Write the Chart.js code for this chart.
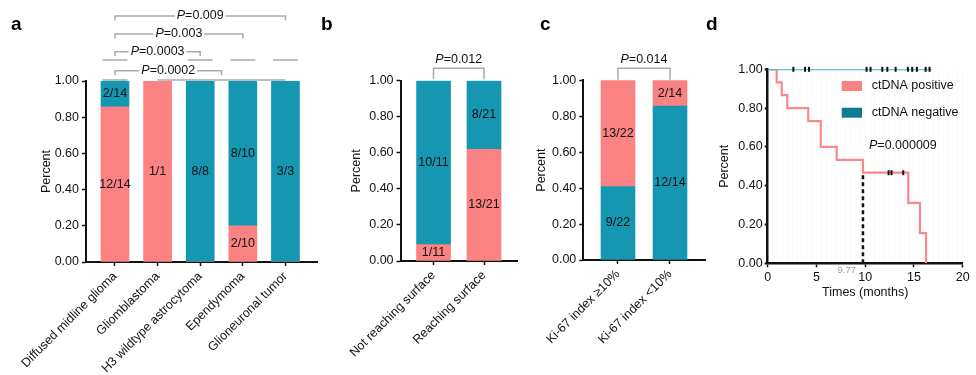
<!DOCTYPE html>
<html>
<head>
<meta charset="utf-8">
<script src="https://cdn.jsdelivr.net/npm/chart.js@4.4.1/dist/chart.umd.min.js"></script>
<style>
  body { margin: 0; background: #fff; }
  #wrap { position: relative; width: 976px; height: 375px; overflow: hidden; font-family: "Liberation Sans", Arial, sans-serif; }
  #wrap canvas { position: absolute; top: 0; }
  .tag { position: absolute; top: 14px; font-size: 19px; font-weight: bold; line-height: 1; color: #000; }
</style>
</head>
<body>
<div id="wrap">
  <canvas id="chartA" width="320" height="375" style="left:0px"></canvas>
  <canvas id="chartB" width="190" height="375" style="left:330px"></canvas>
  <canvas id="chartC" width="188" height="375" style="left:520px"></canvas>
  <canvas id="chartD" width="271" height="375" style="left:705px"></canvas>
  <div class="tag" style="left:11px">a</div>
  <div class="tag" style="left:321px">b</div>
  <div class="tag" style="left:540px">c</div>
  <div class="tag" style="left:706px">d</div>
</div>
<script>
// panel a - tumour types
const catsA = ['Diffused midline glioma', 'Gliomblastoma', 'H3 wildtype astrocytoma', 'Ependymoma', 'Glioneuronal tumor'];
const posA = [12, 1, 0, 2, 0];
const negA = [2, 0, 8, 8, 3];
const pairsA = [[0, 4], [0, 3], [0, 2], [0, 2.5]];
const pvalsA = ['0.009', '0.003', '0.0003', '0.0002'];

// panel b - surface
const catsB = ['Not reaching surface', 'Reaching surface'];
const posB = [1, 13];
const negB = [10, 8];
const pvalB = '0.012';

// panel c - Ki-67
const catsC = ['Ki-67 index \u226510%', 'Ki-67 index <10%'];
const posC = [13, 2];
const negC = [9, 12];
const pvalC = '0.014';

// panel d - survival
const posTime = [0, 0.92, 1.44, 2.01, 4.16, 5.44, 7.08, 9.77, 14.42, 15.62, 16.24];
const posSurv = [1, 0.933, 0.867, 0.8, 0.733, 0.6, 0.533, 0.467, 0.311, 0.156, 0];
const posCens = [12.4, 12.7, 13.9];
const negTime = [0, 16.8];
const negSurv = [1, 1];
const negCens = [2.63, 3.83, 4.24, 10.14, 10.55, 11.75, 12.27, 13.12, 14.38, 14.82, 15.3, 16.2, 16.6];
const medianPos = 9.77;
const pvalD = '0.000009';

const yTicks = [0, 0.2, 0.4, 0.6, 0.8, 1];

const PINK = '#fa8282';
const TEAL = '#1597b2';
const PINK_LINE = '#fb8888';
const TEAL_LINE = '#3fb1ca';
const TEAL_DARK = '#127b93';
const INK = '#111';
const FONT = '"Liberation Sans", Arial, sans-serif';

Chart.defaults.font.family = FONT;
Chart.defaults.font.size = 12.5;
Chart.defaults.color = INK;

// italic P followed by =value
function pText(ctx, val, x, y, align) {
  ctx.font = 'italic 12.5px ' + FONT;
  const wP = ctx.measureText('P').width;
  ctx.font = '12.5px ' + FONT;
  const wR = ctx.measureText('=' + val).width;
  const x0 = align === 'left' ? x : x - (wP + wR) / 2;
  ctx.textAlign = 'left';
  ctx.textBaseline = 'middle';
  ctx.fillStyle = INK;
  ctx.font = 'italic 12.5px ' + FONT;
  ctx.fillText('P', x0, y);
  ctx.font = '12.5px ' + FONT;
  ctx.fillText('=' + val, x0 + wP, y);
  return wP + wR;
}

const barLabels = {
  id: 'barLabels',
  afterDatasetsDraw(chart) {
    const ctx = chart.ctx;
    ctx.save();
    ctx.font = '12.5px ' + FONT;
    ctx.fillStyle = INK;
    ctx.textAlign = 'center';
    ctx.textBaseline = 'middle';
    chart.data.datasets.forEach((ds, di) => {
      chart.getDatasetMeta(di).data.forEach((bar, i) => {
        if (!ds.counts[i]) return;
        ctx.fillText(ds.counts[i] + '/' + ds.totals[i], bar.x, (bar.y + bar.base) / 2);
      });
    });
    ctx.restore();
  }
};

function bracketPlugin(brackets, lines) {
  return {
    id: 'brackets',
    afterDraw(chart) {
      const ctx = chart.ctx, ca = chart.chartArea, x = chart.scales.x;
      ctx.save();
      ctx.strokeStyle = '#aaa';
      ctx.lineWidth = 1.5;
      brackets.forEach(b => {
        const x1 = x.getPixelForValue(b.from), x2 = x.getPixelForValue(b.to);
        const y = ca.top - b.dy, yl = y + b.leg, cx = (x1 + x2) / 2;
        const w = pText(ctx, b.p, cx, ca.top - b.ty, 'center');
        ctx.beginPath();
        ctx.moveTo(x1, yl);
        ctx.lineTo(x1, y);
        if (b.inline) {
          ctx.lineTo(cx - w / 2 - 2, y);
          ctx.moveTo(cx + w / 2 + 2, y);
        }
        ctx.lineTo(x2, y);
        ctx.lineTo(x2, yl);
        ctx.stroke();
      });
      lines.forEach(l => {
        ctx.beginPath();
        ctx.moveTo(x.getPixelForValue(l.from) - l.pad, ca.top - l.dy);
        ctx.lineTo(x.getPixelForValue(l.to) + l.pad, ca.top - l.dy);
        ctx.stroke();
      });
      ctx.restore();
    }
  };
}

function stackedBars(id, cats, pos, neg, tealBottom, lay, brackets, lines) {
  const tot = pos.map((v, i) => v + neg[i]);
  const lower = tealBottom ? neg : pos;
  const upper = tealBottom ? pos : neg;
  const ds = (cnt, low, color) => ({
    data: cnt.map((v, i) => ({x: i, y: low ? [0, v / tot[i]] : [1 - v / tot[i], 1]})),
    counts: cnt,
    totals: tot,
    backgroundColor: color,
    borderWidth: 0,
    grouped: false,
    barThickness: lay.bar,
    barPercentage: 1,
    categoryPercentage: 1
  });
  const tickGrid = {offset: false, drawOnChartArea: false, tickLength: 4, tickColor: INK, tickWidth: 1.5};
  return new Chart(document.getElementById(id), {
    type: 'bar',
    data: {
      datasets: [
        ds(lower, true, tealBottom ? TEAL : PINK),
        ds(upper, false, tealBottom ? PINK : TEAL)
      ]
    },
    options: {
      responsive: false,
      devicePixelRatio: 1,
      animation: false,
      layout: {padding: {top: lay.top, right: 3, left: 0, bottom: 0}},
      plugins: {legend: {display: false}, tooltip: {enabled: false}},
      scales: {
        x: {
          type: 'linear',
          min: lay.xmin,
          max: lay.xmax,
          offset: false,
          afterBuildTicks: s => { s.ticks = cats.map((c, i) => ({value: i})); },
          afterFit: s => { s.height = lay.xh; },
          ticks: {autoSkip: false, minRotation: 45, maxRotation: 45, padding: 3, callback: v => cats[v]},
          grid: tickGrid,
          border: {color: INK, width: 2}
        },
        y: {
          min: 0,
          max: 1,
          afterBuildTicks: s => { s.ticks = yTicks.map(v => ({value: v})); },
          afterFit: s => { s.width = lay.yw; },
          ticks: {padding: 3, callback: v => v.toFixed(2)},
          grid: tickGrid,
          border: {color: INK, width: 2},
          title: {display: true, text: 'Percent', padding: {top: lay.tp, bottom: 0}}
        }
      }
    },
    plugins: [barLabels, bracketPlugin(brackets, lines)]
  });
}

// panel a
const levelsA = [65, 47, 29.3, 10.3];
stackedBars('chartA', catsA, posA, negA, false,
  {top: 81, yw: 86, xh: 113, xmin: -0.68, xmax: 4.74, bar: 28, tp: 39},
  pairsA.map((pr, i) => ({from: pr[0], to: pr[1], p: pvalsA[i], dy: levelsA[i], ty: levelsA[i], leg: 4.5, inline: true})),
  [
    {from: 0, to: 0, pad: 12.5, dy: 21}, {from: 2, to: 2, pad: 12.5, dy: 21},
    {from: 3, to: 3, pad: 12.5, dy: 21}, {from: 4, to: 4, pad: 12.5, dy: 21},
    {from: 0, to: 0, pad: 12.5, dy: 1}, {from: 1, to: 4, pad: 0, dy: 1}
  ]);

// panel b
stackedBars('chartB', catsB, posB, negB, false,
  {top: 80.7, yw: 67, xh: 114, xmin: -0.654, xmax: 1.654, bar: 34, tp: 15.2},
  [{from: 0, to: 1, p: pvalB, dy: 12.4, ty: 20.7, leg: 11, inline: false}], []);

// panel c
stackedBars('chartC', catsC, posC, negC, true,
  {top: 80.3, yw: 63.3, xh: 115, xmin: -0.667, xmax: 1.673, bar: 34, tp: 14.2},
  [{from: 0, to: 1, p: pvalC, dy: 12, ty: 20.3, leg: 11.5, inline: false}], []);

// panel d
function survAt(times, surv, t) {
  let k = 0;
  times.forEach((tt, i) => { if (tt <= t) k = i; });
  return surv[k];
}
const xy = (xs, ys) => xs.map((v, i) => ({x: v, y: ys[i]}));
const censorStyle = {showLine: false, pointStyle: 'line', pointRotation: 90, pointRadius: 2.5,
  pointBorderWidth: 2, pointBorderColor: INK, pointBackgroundColor: INK, clip: false, order: 0};

const kmExtras = {
  id: 'kmExtras',
  afterDraw(chart) {
    const ctx = chart.ctx, ca = chart.chartArea, x = chart.scales.x;
    ctx.save();
    chart.data.datasets.filter(d => d.legendColor).forEach((d, i) => {
      const cy = ca.top + 16.7 + i * 26.7;
      ctx.fillStyle = d.legendColor;
      ctx.fillRect(ca.left + 74, cy - 5, 20.3, 10);
      ctx.fillStyle = INK;
      ctx.font = '12.5px ' + FONT;
      ctx.textAlign = 'left';
      ctx.textBaseline = 'middle';
      ctx.fillText(d.label, ca.left + 104, cy);
    });
    pText(ctx, pvalD, ca.left + 101.3, ca.top + 76.4, 'left');
    ctx.font = '9.5px ' + FONT;
    ctx.fillStyle = '#9a9a9a';
    ctx.textAlign = 'right';
    ctx.textBaseline = 'middle';
    ctx.fillText(String(medianPos), x.getPixelForValue(medianPos) - 7, ca.bottom + 7.2);
    ctx.restore();
  }
};

new Chart(document.getElementById('chartD'), {
  type: 'line',
  data: {
    datasets: [
      {label: 'ctDNA positive', data: xy(posTime, posSurv), stepped: 'before', borderColor: PINK_LINE,
        borderWidth: 2.2, pointRadius: 0, legendColor: PINK, order: 3},
      {label: 'ctDNA negative', data: xy(negTime, negSurv), stepped: 'before', borderColor: TEAL_LINE,
        borderWidth: 2, pointRadius: 0, legendColor: TEAL_DARK, order: 1},
      {label: 'median', data: [{x: medianPos, y: 0}, {x: medianPos, y: survAt(posTime, posSurv, medianPos)}],
        borderColor: INK, borderWidth: 2.5, borderDash: [4, 3], pointRadius: 0, order: 2},
      Object.assign({label: 'censored +', data: posCens.map(t => ({x: t, y: survAt(posTime, posSurv, t)}))}, censorStyle),
      Object.assign({label: 'censored -', data: negCens.map(t => ({x: t, y: survAt(negTime, negSurv, t)}))}, censorStyle)
    ]
  },
  options: {
    responsive: false,
    devicePixelRatio: 1,
    animation: false,
    layout: {padding: {top: 69.3, right: 13.3, left: 0, bottom: 0}},
    plugins: {legend: {display: false}, tooltip: {enabled: false}},
    scales: {
      x: {
        type: 'linear',
        min: 0,
        max: 20,
        afterBuildTicks: s => {
          const t = [];
          for (let v = 0; v <= 20; v += 0.5) t.push({value: v});
          s.ticks = t;
        },
        afterFit: s => { s.height = 111.7; },
        ticks: {autoSkip: false, maxRotation: 0, padding: 3, callback: v => (v % 5 === 0 ? v : '')},
        grid: {
          color: 'rgba(0,0,0,0.02)',
          tickLength: 4,
          tickWidth: 1.5,
          tickColor: c => (c.tick && c.tick.value % 5 === 0 ? INK : 'rgba(0,0,0,0)')
        },
        border: {color: INK, width: 2.5},
        title: {display: true, text: 'Times (months)', padding: {top: 0, bottom: 75}}
      },
      y: {
        min: 0,
        max: 1,
        afterBuildTicks: s => { s.ticks = yTicks.map(v => ({value: v})); },
        afterFit: s => { s.width = 62.7; },
        ticks: {padding: 2, callback: v => v.toFixed(2)},
        grid: {drawOnChartArea: false, tickLength: 3, tickWidth: 2, tickColor: INK},
        border: {color: INK, width: 2.5},
        title: {display: true, text: 'Percent', padding: {top: 12.5, bottom: 0}}
      }
    }
  },
  plugins: [kmExtras]
});
</script>
</body>
</html>
